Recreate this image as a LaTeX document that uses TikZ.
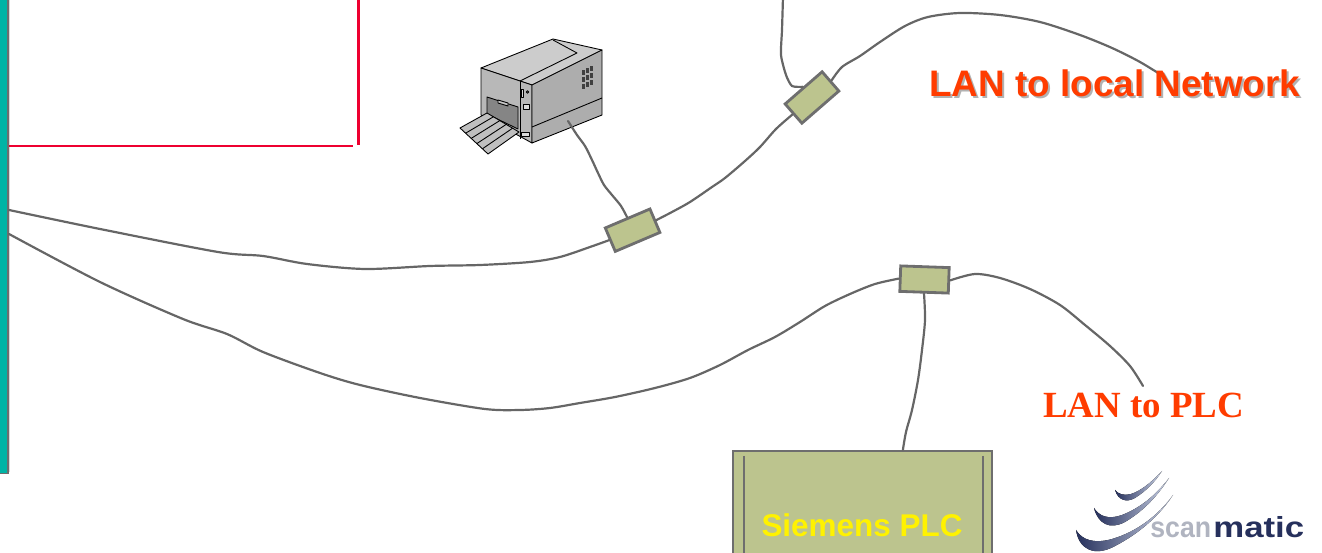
\documentclass[tikz,border=0pt]{standalone}
\usepackage{fontspec}
\setmainfont{Liberation Serif}
\setsansfont{Liberation Sans}
\usepackage{tikz}
\usetikzlibrary{calc}

\definecolor{cablegray}{RGB}{102,102,102}
\definecolor{edgegray}{RGB}{110,110,110}
\definecolor{plcgreen}{RGB}{188,196,142}
\definecolor{labelred}{RGB}{255,60,0}
\definecolor{framered}{RGB}{238,0,48}
\definecolor{pcteal}{RGB}{0,180,165}
\definecolor{logonavy}{RGB}{38,48,92}
\definecolor{logolight}{RGB}{200,208,228}
\definecolor{logogray}{RGB}{176,180,192}

\begin{document}
\begin{tikzpicture}[x=0.02cm,y=-0.02cm]

\tikzset{
  cable/.style={draw=cablegray, line width=1.25pt, line join=round, line cap=round},
  jack/.style={
    draw=edgegray, fill=plcgreen, line width=1.6pt,
    minimum width=0.97cm, minimum height=0.51cm, inner sep=0pt,
  },
  plcbox/.style={
    draw=edgegray, fill=plcgreen, line width=1.3pt,
    minimum width=5.18cm, minimum height=3.42cm, inner sep=0pt,
  },
  netlabel/.style={inner sep=0pt, anchor=base west, font=\sffamily\bfseries\fontsize{21pt}{25pt}\selectfont},
  part/.style={draw=black, line width=0.5pt, line join=round},
  swoosh/.style={left color=logonavy, right color=logolight},
}

  \useasboundingbox (0,0) rectangle (1322,553);
  \clip (0,0) rectangle (1322,553);

  % PC on the left
  \fill[pcteal] (0,-5) rectangle (7.5,473);
  \draw[edgegray, line width=1.1pt] (7.8,-5) -- (7.8,473.5) -- (-5,473.5);
  \draw[black!15, line width=0.5pt] (9.5,-5) -- (9.5,472);
  \coordinate (pcport1) at (9,210);
  \coordinate (pcport2) at (9,234);

  % red frame
  \draw[framered, line width=1.2pt] (9,146) -- (353,146);
  \draw[framered, line width=1.2pt] (358.5,-5) -- (358.5,145);

  % Printer
  \draw[part, fill=black!20] (481,68) -- (553,39) -- (602,50) -- (532,85) -- cycle;
  \draw[part] (553,40) -- (577,53) -- (520,81);
  \draw[part, fill=black!28] (481,68) -- (532,85) -- (532,143) -- (481,115) -- cycle;
  \draw[part, fill=black!32] (532,85) -- (602,50) -- (602,115) -- (532,143) -- cycle;
  \draw[part] (532,127) -- (602,98);
  \draw[part] (520,81) -- (520,139);
  \draw[part, fill=black!48] (487,97) -- (518,107) -- (518,129) -- (487,114) -- cycle;
  \draw[part, fill=black!22] (498,100) -- (508,103) -- (508,106) -- (498,103) -- cycle;
  \draw[part, fill=black!15] (521,89) rectangle (523.5,97);
  \draw[part, fill=black!15] (527.5,92) circle (1.2);
  \draw[part, fill=black!15] (523,104) rectangle (529,109);
  \draw[part, fill=black!15] (521.5,132) rectangle (529,136.5);
  \foreach \c in {0,1,2} {
    \foreach \r in {0,1,2} {
      \fill[black!75] ({582+4*\c},{70+7*\r-2*\c}) rectangle ++(3,5);
    }
  }
  \draw[part, fill=black!25] (460,128) -- (487,113) -- (519,132) -- (488,154) -- cycle;
  \foreach \t in {0.2,0.4,0.6,0.8} {
    \draw[part] ($(460,128)!\t!(488,154)$) -- ($(487,113)!\t!(519,132)$);
  }
  \coordinate (prnport) at (568,121);

  % Connectors
  \node[jack, rotate=23] (jackA) at (632.6,230.2) {};
  \node[jack, rotate=41, minimum width=0.98cm] (jackB) at (812,97.5) {};
  \node[jack, rotate=-2] (jackC) at (924.5,279.5) {};

  % Siemens PLC
  \node[plcbox] (plc) at (862.5,536.5) {};
  \draw[edgegray, line width=1.2pt] (744,456) -- (744,560);
  \draw[edgegray, line width=1.2pt] (983,456) -- (983,560);
  \node[inner sep=0pt, anchor=base, text=yellow, font=\sffamily\bfseries\fontsize{17.9pt}{21pt}\selectfont] (plctext) at (862,537) {Siemens PLC};

  % Free cable ends
  \coordinate (uplink) at (783,-3);
  \coordinate (lanend) at (1166,78);
  \coordinate (plcend) at (1143,386);

  % Cables
  \draw[cable] plot[smooth, tension=0.5] coordinates {(pcport1) (100,229) (218,252) (263,256) (307,264) (365,269) (430,266) (480,265) (530,262) (560,257) (590,247) (jackA.west)};
  \draw[cable] plot[smooth, tension=0.5] coordinates {(jackA.east) (672,212) (690,202) (712,187) (725,178) (745,161) (760,147) (776,129) (jackB.west)};
  \draw[cable] plot[smooth, tension=0.5] coordinates {(jackB.east) (842,67) (860,56) (880,42) (905,26) (928,17) (960,13) (1000,15) (1040,22) (1080,35) (1112,48) (1140,62) (lanend)};
  \draw[cable] plot[smooth, tension=0.4] coordinates {(uplink) (782,30) (781,55) (786,75) (792,86) (jackB.north)};
  \draw[cable] plot[smooth, tension=0.5] coordinates {(prnport) (577,135) (585,146) (592,160) (598,173) (604,185) (612,195) (621,206) (jackA.north)};
  \draw[cable] plot[smooth, tension=0.5] coordinates {(pcport2) (100,282) (183,319) (227,334) (263,352) (320,373) (360,385) (420,398) (485,409) (520,410) (550,408) (580,403) (615,397) (655,388) (690,378) (720,365) (748,350) (775,337) (800,322) (825,306) (850,294) (875,284) (jackC.west)};
  \draw[cable] plot[smooth, tension=0.5] coordinates {(jackC.south) (925,320) (922,350) (918,380) (912,410) (906,432) (plc.65)};
  \draw[cable] plot[smooth, tension=0.5] coordinates {(jackC.east) (975,274) (1000,278) (1030,289) (1060,305) (1085,325) (1110,346) (1130,366) (plcend)};

  % Labels
  \node[netlabel, text=black!30] at (931,99) {LAN to local Network};
  \node[netlabel, text=labelred] (lanlabel) at (929,97) {LAN to local Network};
  \node[inner sep=0pt, anchor=base west, text=labelred, font=\rmfamily\bfseries\fontsize{21pt}{25pt}\selectfont] (plclabel) at (1043,418) {LAN to PLC};

  % scanmatic logo
  \fill[swoosh] (1115,490) .. controls (1118,500) and (1126,503) .. (1135,498) .. controls (1146,491) and (1155,482) .. (1162,471)
    .. controls (1150,484) and (1140,491) .. (1131,494) .. controls (1124,496) and (1118,494) .. cycle;
  \fill[swoosh] (1094,508) .. controls (1098,524) and (1110,530) .. (1125,522) .. controls (1145,510) and (1158,495) .. (1169,478)
    .. controls (1155,496) and (1140,508) .. (1122,515) .. controls (1108,520) and (1099,516) .. cycle;
  \fill[swoosh] (1076,530) .. controls (1079,550) and (1095,557) .. (1115,546) .. controls (1140,533) and (1160,515) .. (1173,495)
    .. controls (1158,516) and (1136,532) .. (1112,539) .. controls (1094,544) and (1082,540) .. cycle;
  \node[inner sep=0pt, anchor=base west, text=logogray, font=\sffamily\bfseries\fontsize{16.5pt}{19pt}\selectfont] (scan) at (1150,538) {\scalebox{0.92}[1]{scan}};
  \node[inner sep=0pt, anchor=base west, text=logonavy, font=\sffamily\bfseries\fontsize{16.5pt}{19pt}\selectfont] (matic) at (1213,538) {\scalebox{1.2}[1]{matic}};

\end{tikzpicture}
\end{document}
